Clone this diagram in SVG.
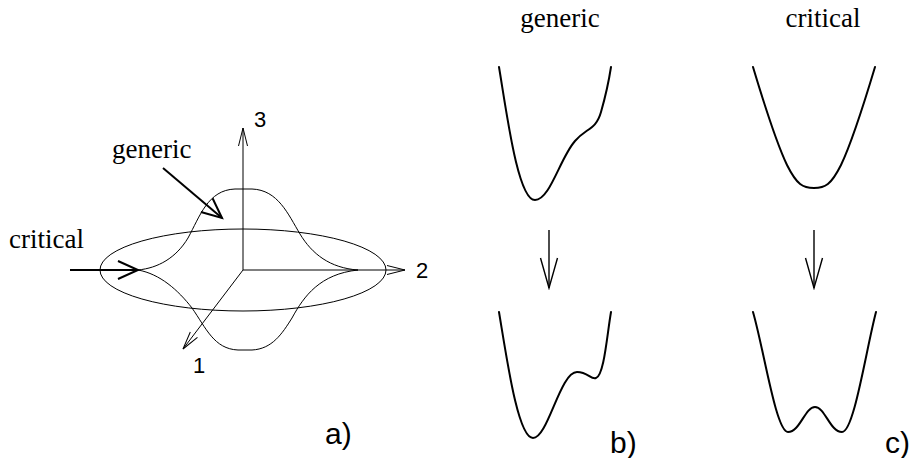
<svg xmlns="http://www.w3.org/2000/svg" width="913" height="458" viewBox="0 0 913 458">
<style>
.serif{font-family:"Liberation Serif","Times New Roman",serif;font-size:27px;fill:#000}
.sans{font-family:"Liberation Sans",Arial,sans-serif;fill:#000}
.thin{fill:none;stroke:#000;stroke-width:1}
.pot{fill:none;stroke:#000;stroke-width:2;stroke-linejoin:round;stroke-linecap:round}
.bold{fill:none;stroke:#000;stroke-width:2}
.mid{fill:none;stroke:#000;stroke-width:1.4}
</style>
<defs>
<marker id="ax" markerUnits="userSpaceOnUse" markerWidth="24" markerHeight="14" viewBox="-20 -7 24 14" refX="0" refY="0" orient="auto">
<path d="M-18,-4.5 L0,0 L-18,4.5" fill="none" stroke="#000" stroke-width="1"/>
</marker>
<marker id="big" markerUnits="userSpaceOnUse" markerWidth="26" markerHeight="22" viewBox="-23 -11 26 22" refX="0" refY="0" orient="auto">
<path d="M-20,-9 L0,0 L-20,9" fill="none" stroke="#000" stroke-width="2"/>
</marker>
<marker id="down" markerUnits="userSpaceOnUse" markerWidth="34" markerHeight="22" viewBox="-32 -11 34 22" refX="0" refY="0" orient="auto">
<path d="M-30,-8.5 L0,0 L-30,8.5" fill="none" stroke="#000" stroke-width="1.4"/>
</marker>
</defs>

<g id="panel-a">
<g id="ellipse"><ellipse class="thin" cx="243" cy="270" rx="143" ry="41"/></g>
<g id="wave">
<path class="thin" d="M138,270 C158,268 176,258 188,238 C200,216 208,190 235,189 L252,189 C278,190 288,214 300,234 C312,254 330,268 358,270"/>
<path class="thin" d="M138,270 C160,274 178,290 192,308 C206,328 214,349 238,350 L252,350 C272,349 282,334 292,318 C304,296 320,274 358,270"/>
</g>
<g id="axis-labels">
<text class="sans" x="254" y="127" font-size="22">3</text>
<text class="sans" x="416" y="278" font-size="22">2</text>
<text class="sans" x="193" y="373" font-size="22">1</text>
</g>
<g id="label-generic"><text class="serif" x="112" y="158">generic</text></g>
<g id="label-critical"><text class="serif" x="9" y="248">critical</text></g>
<g id="label-a"><text class="sans" x="325" y="444" font-size="30">a)</text></g>
</g>

<g id="panel-b">
<text class="serif" x="560" y="27" text-anchor="middle">generic</text>
<g id="b-before"><path class="pot" d="M499,67 C507,115 518,200 535,200 C550,200 560,158 575,141 C586,128 596,130 601,112 C605,98 609,80 611,67"/></g>
<g id="b-after"><path class="pot" d="M499,312 C507,360 518,438 533,438 C548,438 560,372 577,372 C588,372 591,380 596,378 C604,376 607,335 611,312"/></g>
<text class="sans" x="610" y="453" font-size="30">b)</text>
</g>

<g id="panel-c">
<text class="serif" x="823" y="27" text-anchor="middle">critical</text>
<g id="c-before"><path class="pot" d="M753,67 C762,97 775,140 787,165 C797,185 803,188 814,188 C825,188 831,185 841,165 C853,140 866,97 875,67"/></g>
<g id="c-after"><path class="pot" d="M753,312 C764,350 776,432 788,432 C800,432 805,407 815,407 C825,407 830,432 842,432 C854,432 866,350 876,312"/></g>
<text class="sans" x="885" y="453" font-size="30">c)</text>
</g>

<g id="connectors">
<line class="thin" x1="243" y1="270" x2="243" y2="128" marker-end="url(#ax)"/>
<line class="thin" x1="243" y1="270" x2="405" y2="270" marker-end="url(#ax)"/>
<line class="thin" x1="243" y1="270" x2="183" y2="349" marker-end="url(#ax)"/>
<line class="bold" x1="163" y1="168" x2="222" y2="218" marker-end="url(#big)"/>
<line class="bold" x1="70" y1="270" x2="138" y2="270" marker-end="url(#big)"/>
<line class="mid" x1="549" y1="230" x2="549" y2="288" marker-end="url(#down)"/>
<line class="mid" x1="814" y1="230" x2="814" y2="288" marker-end="url(#down)"/>
</g>
</svg>
